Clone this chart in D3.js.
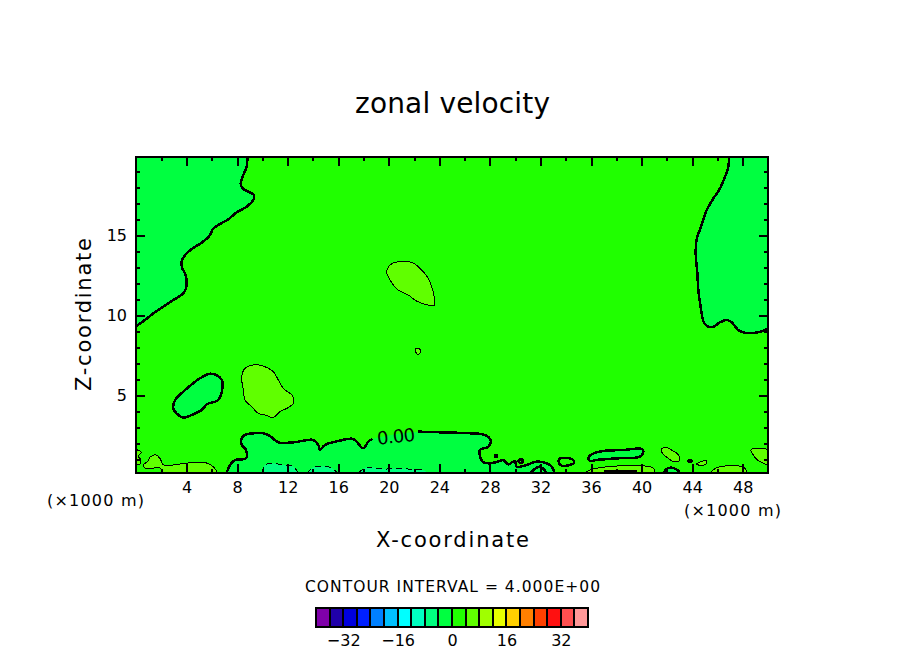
<!DOCTYPE html>
<html><head><meta charset="utf-8">
<script src="https://cdn.jsdelivr.net/npm/d3@7"></script>
<style>
html,body{margin:0;padding:0;background:#fff}
svg{display:block}
text{font-family:"DejaVu Sans",sans-serif;fill:#000;stroke:none}
</style></head><body><svg id="c" width="904" height="654"></svg>
<script>
// ---------- data (X in 1000 m, Z in 1000 m) ----------
const xMajor=[4,8,12,16,20,24,28,32,36,40,44,48];
const xMinor=[2,6,10,14,18,22,26,30,34,38,42,46];
const zMajor=[5,10,15];
const zMinor=[1,2,3,4,6,7,8,9,11,12,13,14,16,17,18,19];
const legendLevels=[-40,-36,-32,-28,-24,-20,-16,-12,-8,-4,0,4,8,12,16,20,24,28,32,36];
const legendColors=["#7f00aa","#2000aa","#0000dd","#0020ff","#0080ff","#00c0ff","#00ffff","#00ffc0","#00ff80","#00ff40","#20ff00","#60ff00","#a0ff00","#e8ff00","#ffd000","#ff8000","#ff4000","#ff1010","#ff5050","#ff9898"];
const legendTicks=[-32,-16,0,16,32];

const zeroTopLeft=[[8.81,19.875],[8.76,19.27],[8.49,18.75],[8.28,18.23],[8.44,17.91],[8.89,17.71],[9.33,17.5],[9.28,17.19],[8.75,16.77],[7.96,16.41],[7.3,15.98],[6.65,15.69],[6.12,15.41],[5.8,14.94],[5.19,14.52],[4.4,14.12],[3.88,13.75],[3.61,13.33],[3.67,12.91],[3.93,12.5],[3.96,11.66],[3.69,11.31],[2.95,10.94],[2.16,10.52],[1.37,10.1],[.71,9.69],[0,9.3]];
const zeroBlobLeft=[[5.91,6.33],[6.65,6.08],[6.83,5.83],[6.72,4.99],[6.43,4.64],[5.64,4.44],[5.19,4.06],[4.53,3.79],[3.74,3.58],[3.35,3.75],[2.95,4.16],[3.14,4.73],[3.74,5.21],[4.4,5.66],[5.06,6.04]];
const zeroRight=[[46.92,19.875],[46.86,19.27],[46.6,18.64],[46.2,17.91],[45.6,17.19],[45.1,16.46],[44.75,15.62],[44.36,14.73],[44.28,13.85],[44.41,12.6],[44.49,11.56],[44.67,10.52],[44.94,9.52],[45.28,9.27],[45.68,9.27],[46.2,9.54],[46.73,9.69],[47.13,9.54],[47.65,9.06],[48.18,8.89],[48.97,8.89],[49.63,9.02],[50,9.16]];
const zeroLowerWest=[[7.17,.125],[7.44,.63],[7.83,.94],[8.7,1.04],[8.7,1.57],[8.36,1.88],[8.36,2.29],[8.62,2.5],[10.07,2.61],[10.6,2.44],[11.26,2.04],[12.45,2.04],[14.03,2.19],[14.42,1.88],[14.56,1.57],[14.95,1.88],[16.14,2.15],[17.19,2.25],[17.98,1.67],[18.38,2.09],[18.7,2.25]];
const zeroLowerEast=[[22.34,2.71],[24.84,2.65],[26.42,2.61],[27.61,2.5],[28.06,2.15],[27.87,1.77],[27.21,1.56],[27.4,.84],[27.87,.73],[28.66,.84],[29.06,.94],[29.45,.67],[29.98,.88],[30.11,.52],[30.91,.63],[31.7,.84],[32.49,.73],[32.88,.52],[33.12,.125]];
const zeroBlob36=[[35.78,1.04],[36.05,1.29],[36.97,1.5],[38.55,1.56],[40,1.63],[40.14,1.46],[39.87,1.15],[38.03,1.04],[36.44,.94],[35.92,.88]];
const zeroArc42=[[41.72,.125],[41.98,.38],[42.38,.46],[42.83,.31],[43.04,.125]];
const zeroRing34=[[33.47,1],[34.47,1],[34.66,.77],[34.34,.63],[33.55,.63]];
const zeroLoop30=[[30.25,.9],[30.45,.98],[30.64,.9],[30.45,.73]];
const zeroDot28=[[28.4,1.22],[28.56,1.22],[28.48,1.1]];
const zeroArc32=[[31.17,.125],[31.96,.52],[32.49,.125]];
const zeroTick44=[[43.7,.9],[43.96,.9],[43.83,.8]];
const zeroFloor38=[[37,.22],[39.6,.22]];

const fourBlobLeft=[[9.41,6.89],[10.07,6.81],[10.86,6.46],[11.26,5.94],[11.66,5.41],[12.39,4.94],[12.45,4.48],[11.92,4.16],[11.39,3.96],[10.86,3.6],[10.21,3.75],[9.68,3.85],[9.15,4.27],[8.62,4.69],[8.49,5.31],[8.36,6.14],[8.62,6.66]];
const fourBlobMid=[[20.49,13.29],[21.81,13.29],[22.47,12.91],[23.12,12.29],[23.47,11.56],[23.6,10.62],[23.12,10.62],[22.2,10.87],[21.54,11.25],[20.75,11.56],[20.09,12.19],[19.83,12.71],[20.09,13.12]];
const fourDot22=[[22.12,7.89],[22.41,7.89],[22.52,7.7],[22.33,7.52],[22.12,7.7]];
const fourEdgeLeft=[[0,1.6],[.42,1.4],[.16,1.15],[.37,.98],[.32,.69],[0,.69]];
const fourFloorLeft=[[.58,.63],[.9,.84],[1.16,1.15],[1.56,1.25],[1.9,1.04],[2.16,.63],[3.01,.63],[3.8,.73],[4.59,.77],[5.51,.77],[6.04,.56],[6.38,.125],[2.08,.125],[1.95,.42],[1.16,.42],[.76,.42]];
const fourFloor36=[[35.47,.125],[36.18,.38],[38.03,.56],[40.14,.58],[40.93,.42],[41.06,.125]];
const fourBlob42=[[41.54,1.56],[41.85,1.73],[42.38,1.56],[42.91,1.25],[42.99,.9],[42.51,.84],[42.12,1.04],[41.72,1.29]];
const fourBlob44=[[44.36,.69],[44.75,.84],[45.15,.9],[45.1,.69],[44.62,.61]];
const fourFloor46=[[45.41,.125],[45.94,.46],[47.52,.58],[48.18,.42],[48.31,.125]];
const fourEdgeRight=[[50,1.6],[49.1,1.67],[48.63,1.56],[48.84,1.25],[49.1,.98],[49.63,.73],[50,.63]];

const minusA=[[9.94,.125],[10.21,.62],[10.73,.73],[11.66,.62],[12.45,.52],[12.84,.125]];
const minusB=[[13.56,.125],[14.03,.48],[15.35,.48],[15.93,.125]];
const minusC=[[17.59,.125],[18.25,.48],[19.57,.37],[20.62,.41],[21.94,.35],[22.86,.27],[23,.125]];

// ---------- scales ----------
const W=904,H=654,L=136,R=768,T=157,B=473;
const svg=d3.select("#c");
const x=d3.scaleLinear().domain([0,50]).range([L,R]);
const z=d3.scaleLinear().domain([.125,19.875]).range([B,T]);
const legendX=d3.scaleLinear().domain([-40,40]).range([316,588]);
const bandColor=d3.scaleOrdinal().domain(legendLevels).range(legendColors);
const line=d3.line().x(d=>x(d[0])).y(d=>z(d[1])).curve(d3.curveCatmullRom.alpha(.5));
const loop=d3.line().x(d=>x(d[0])).y(d=>z(d[1])).curve(d3.curveCatmullRomClosed.alpha(.5));
const corner=d=>"L"+x(d[0])+","+z(d[1]);

svg.append("defs").append("clipPath").attr("id","plot").append("rect")
  .attr("x",L).attr("y",T).attr("width",R-L).attr("height",B-T);
const plot=svg.append("g").attr("clip-path","url(#plot)");
plot.append("rect").attr("x",L).attr("y",T).attr("width",R-L).attr("height",B-T).attr("fill",bandColor(0));

// fills
const fills=[
 [-4,line(zeroTopLeft)+corner([0,19.875])+"Z"],
 [-4,line(zeroRight)+corner([50,19.875])+"Z"],
 [-4,loop(zeroBlobLeft)],
 [-4,line(zeroLowerWest.concat(zeroLowerEast))+"Z"],
 [-4,loop(zeroBlob36)],
 [-4,line(zeroArc42)+"Z"],
 [-8,line(minusA)+"Z"],[-8,line(minusB)+"Z"],[-8,line(minusC)+"Z"],
 [4,loop(fourBlobLeft)],[4,loop(fourBlobMid)],[4,loop(fourDot22)],
 [4,line(fourEdgeLeft)+"Z"],[4,loop(fourFloorLeft)],[4,line(fourFloor36)+"Z"],
 [4,loop(fourBlob42)],[4,loop(fourBlob44)],[4,line(fourFloor46)+"Z"],[4,line(fourEdgeRight)+"Z"]
];
plot.selectAll("path.fill").data(fills).join("path").attr("class","fill")
  .attr("d",d=>d[1]).attr("fill",d=>bandColor(d[0]));

// contour lines
const strokes=[];
[zeroTopLeft,zeroRight,zeroLowerWest,zeroLowerEast,zeroArc42,zeroArc32,zeroFloor38].forEach(p=>strokes.push({d:line(p),w:2.5}));
[zeroBlobLeft,zeroBlob36,zeroRing34,zeroLoop30,zeroDot28,zeroTick44].forEach(p=>strokes.push({d:loop(p),w:2.5}));
[fourEdgeLeft,fourFloor36,fourFloor46,fourEdgeRight].forEach(p=>strokes.push({d:line(p),w:1}));
[fourBlobLeft,fourBlobMid,fourDot22,fourFloorLeft,fourBlob42,fourBlob44].forEach(p=>strokes.push({d:loop(p),w:1}));
[minusA,minusB,minusC].forEach(p=>strokes.push({d:line(p),w:1,dash:"6 4"}));
plot.selectAll("path.ln").data(strokes).join("path").attr("class","ln")
  .attr("d",d=>d.d).attr("fill","none").attr("stroke","#000")
  .attr("stroke-width",d=>d.w).attr("stroke-dasharray",d=>d.dash||null)
  .attr("shape-rendering","crispEdges");

svg.append("text").attr("text-anchor","middle").attr("font-size",18)
  .attr("textLength",38).attr("lengthAdjust","spacing")
  .attr("transform",`translate(${x(20.62)},${z(2.02)}) rotate(-6)`).text("0.00");

// axes
function ax(gen,scale,vals,size,labels,pos){
  const a=gen(scale).tickValues(vals).tickSizeOuter(0).tickSizeInner(-size).tickPadding(9);
  a.tickFormat(labels?d3.format("d"):()=>"");
  const g=svg.append("g").attr("transform",pos).call(a);
  g.select(".domain").remove();
  g.selectAll("line").attr("stroke","#000").attr("stroke-width",2).attr("shape-rendering","crispEdges");
  g.selectAll("text").attr("font-size",16).attr("font-family",null);
  g.attr("font-family",null).attr("font-size",null);
}
ax(d3.axisBottom,x,xMajor,9,true,`translate(0,${B})`);
ax(d3.axisBottom,x,xMinor,4,false,`translate(0,${B})`);
ax(d3.axisTop,x,xMajor,9,false,`translate(0,${T})`);
ax(d3.axisTop,x,xMinor,4,false,`translate(0,${T})`);
ax(d3.axisLeft,z,zMajor,9,true,`translate(${L},0)`);
ax(d3.axisLeft,z,zMinor,4,false,`translate(${L},0)`);
ax(d3.axisRight,z,zMajor,9,false,`translate(${R},0)`);
ax(d3.axisRight,z,zMinor,4,false,`translate(${R},0)`);
svg.append("rect").attr("x",L).attr("y",T).attr("width",R-L).attr("height",B-T)
  .attr("fill","none").attr("stroke","#000").attr("stroke-width",2).attr("shape-rendering","crispEdges");

// texts
function label(str,cx,cy,size,len,rot){
  const t=svg.append("text").attr("text-anchor","middle").attr("font-size",size)
    .attr("textLength",len).attr("lengthAdjust","spacing").text(str);
  t.attr("transform",`translate(${cx},${cy})`+(rot?` rotate(${rot})`:""));
}
label("zonal velocity",452.5,113,28,195,0);
label("X-coordinate",452.5,546.5,21,153,0);
label("Z-coordinate",91,314.5,21,153,-90);
label("(×1000 m)",95.5,506,16,97);
label("(×1000 m)",732.5,516,16,97);
label("CONTOUR INTERVAL = 4.000E+00",452.5,592,15.5,295);

// colour key
const LT=608,LB=627;
svg.append("g").selectAll("rect").data(legendLevels).join("rect")
  .attr("x",d=>legendX(d)).attr("y",LT)
  .attr("width",d=>legendX(d+4)-legendX(d)).attr("height",LB-LT)
  .attr("fill",d=>bandColor(d)).attr("stroke","#000").attr("stroke-width",2)
  .attr("shape-rendering","crispEdges");
const lg=svg.append("g").attr("transform",`translate(0,${LB})`)
  .call(d3.axisBottom(legendX).tickValues(legendTicks).tickSize(0).tickPadding(8));
lg.select(".domain").remove();
lg.selectAll("text").attr("font-size",16);
lg.attr("font-family",null).attr("font-size",null);
</script></body></html>
